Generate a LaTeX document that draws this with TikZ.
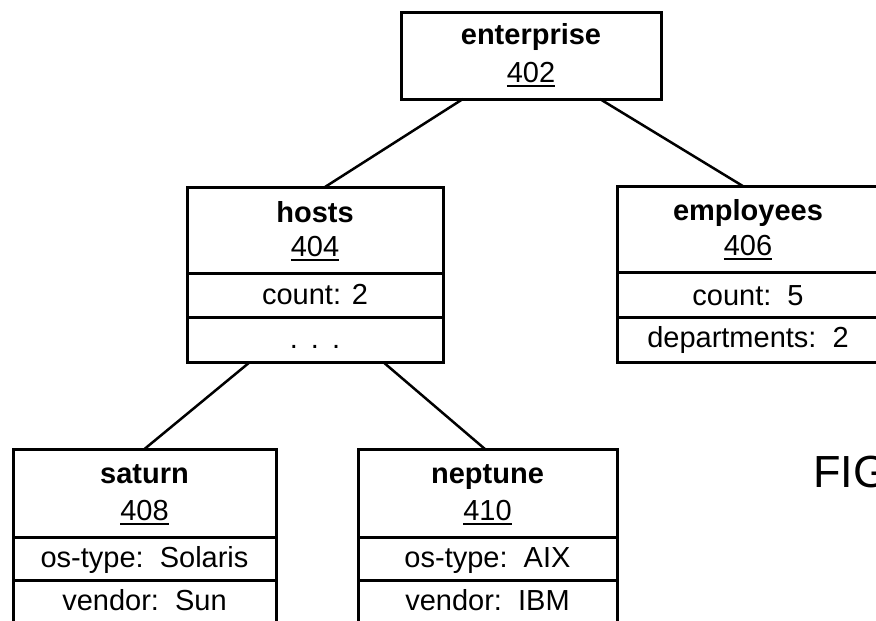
\documentclass[tikz,border=0pt]{standalone}
\usepackage{fontspec}
\setmainfont{Liberation Sans}
\usetikzlibrary{calc}

% underlined reference numeral
\newcommand{\refnum}[1]{\setbox0\hbox{#1}\rlap{\rule[-5.2pt]{\wd0}{2.2pt}}\box0}

\begin{document}
\begin{tikzpicture}[x=1pt, y=-1pt,
  objbox/.style={draw, line width=3pt, inner sep=0pt, outer sep=0pt,
                 anchor=north west, fill=white},
  divider/.style={line width=3pt},
  link/.style={line width=2.5pt},
  title/.style={anchor=base, inner sep=0pt, font=\fontsize{29}{31}\selectfont\bfseries},
  label/.style={anchor=base, inner sep=0pt, font=\fontsize{29}{31}\selectfont},
  figtext/.style={anchor=base west, inner sep=0pt, font=\fontsize{45}{48}\selectfont}
]
\useasboundingbox (0,0) rectangle (876,621);
\clip (0,0) rectangle (876,621);

% ---- boxes ----
\node[objbox, minimum width=260pt, minimum height=87pt] (ent) at (401,12) {};
\node[objbox, minimum width=256pt, minimum height=175pt] (hosts) at (187,187) {};
\node[objbox, minimum width=262pt, minimum height=176pt] (emp) at (617,186) {};
\node[objbox, minimum width=263pt, minimum height=176pt] (sat) at (13,449) {};
\node[objbox, minimum width=259pt, minimum height=176pt] (nep) at (358,449) {};

% ---- row dividers ----
\draw[divider] (hosts.west |- 0,273) -- (hosts.east |- 0,273);
\draw[divider] (hosts.west |- 0,317) -- (hosts.east |- 0,317);
\draw[divider] (emp.west |- 0,272) -- (emp.east |- 0,272);
\draw[divider] (emp.west |- 0,317) -- (emp.east |- 0,317);
\draw[divider] (sat.west |- 0,537) -- (sat.east |- 0,537);
\draw[divider] (sat.west |- 0,580) -- (sat.east |- 0,580);
\draw[divider] (nep.west |- 0,537) -- (nep.east |- 0,537);
\draw[divider] (nep.west |- 0,580) -- (nep.east |- 0,580);

% ---- connectors ----
\draw[link] ($(ent.south west)!0.238!(ent.south east)$) -- ($(hosts.north west)!0.539!(hosts.north east)$);
\draw[link] ($(ent.south west)!0.765!(ent.south east)$) -- ($(emp.north west)!0.48!(emp.north east)$);
\draw[link] ($(hosts.south west)!0.246!(hosts.south east)$) -- ($(sat.north west)!0.50!(sat.north east)$);
\draw[link] ($(hosts.south west)!0.766!(hosts.south east)$) -- ($(nep.north west)!0.49!(nep.north east)$);

% ---- texts ----
\node[title] (entT) at (ent.north |- 0,45) {enterprise};
\node[label] (entN) at (ent.north |- 0,82) {\refnum{402}};

\node[title] (hostsT) at (hosts.north |- 0,222) {hosts};
\node[label] (hostsN) at (hosts.north |- 0,256) {\refnum{404}};
\node[label] (hostsC) at (hosts.north |- 0,304) {count: 2};
\node[label] (hostsD) at (hosts.north |- 0,348) {.\hspace{0.45em}.\hspace{0.45em}.};

\node[title] (empT) at (emp.north |- 0,220) {employees};
\node[label] (empN) at (emp.north |- 0,255) {\refnum{406}};
\node[label] (empC) at (emp.north |- 0,305) {count:\ \ 5};
\node[label] (empD) at (emp.north |- 0,347) {departments:\ \ 2};

\node[title] (satT) at (sat.north |- 0,483) {saturn};
\node[label] (satN) at (sat.north |- 0,520) {\refnum{408}};
\node[label] (satO) at (sat.north |- 0,567) {os-type:\ \ Solaris};
\node[label] (satV) at (sat.north |- 0,610) {vendor:\ \ Sun};

\node[title] (nepT) at (nep.north |- 0,483) {neptune};
\node[label] (nepN) at (nep.north |- 0,520) {\refnum{410}};
\node[label] (nepO) at (nep.north |- 0,567) {os-type:\ \ AIX};
\node[label] (nepV) at (nep.north |- 0,610) {vendor:\ \ IBM};

\node[figtext] (fig) at (813,487) {FIG};
\end{tikzpicture}
\end{document}
